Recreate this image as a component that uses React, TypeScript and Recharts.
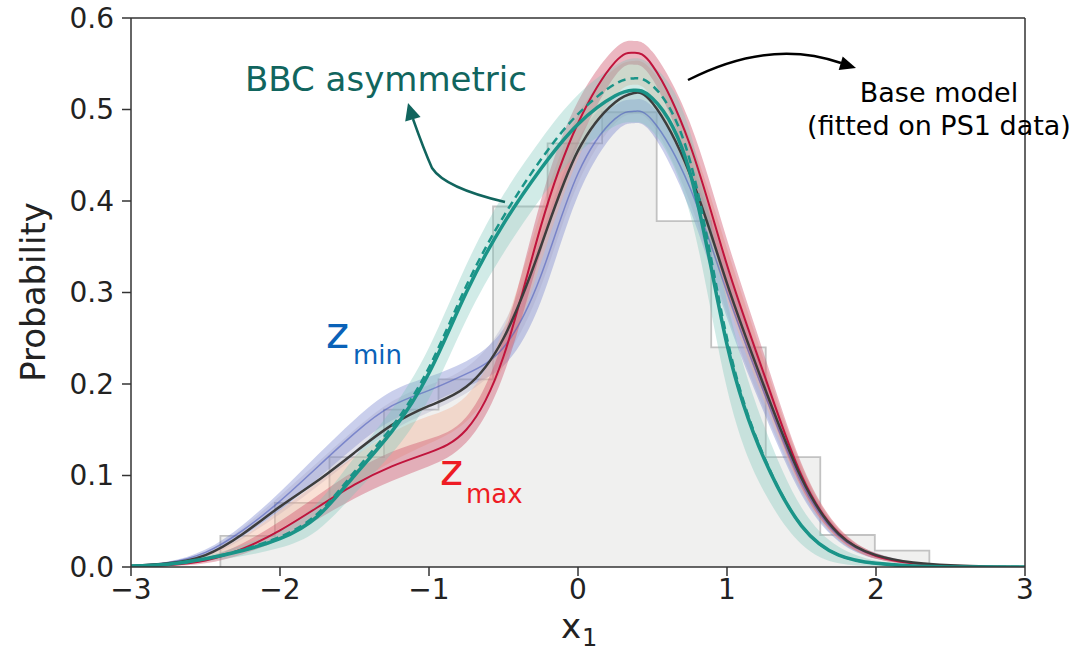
import {
  ComposedChart,
  Area,
  Line,
  XAxis,
  YAxis,
  ReferenceLine,
} from "recharts";

const FONT = "DejaVu Sans, sans-serif";
const CURVE = "natural";

// x grid for the smooth curves
const xs = [
  -3, -2.75, -2.5, -2.25, -2, -1.75, -1.5, -1.25, -1, -0.75, -0.5, -0.25, 0,
  0.25, 0.375, 0.5, 0.75, 1, 1.25, 1.5, 1.75, 2, 2.25, 2.5, 2.75, 3,
];

// base model (fitted on PS1 data)
const base = [
  0.001, 0.004, 0.013, 0.036, 0.066, 0.094, 0.125, 0.155, 0.176, 0.197, 0.25,
  0.35, 0.455, 0.508, 0.518, 0.507, 0.43, 0.31, 0.197, 0.097, 0.036, 0.013,
  0.005, 0.002, 0.0005, 0,
];

// redshift-dependent models, z_min -> z_max
const zMin = [
  0.0015, 0.005, 0.016, 0.04, 0.072, 0.109, 0.146, 0.176, 0.193, 0.211, 0.24,
  0.318, 0.43, 0.49, 0.498, 0.488, 0.415, 0.3, 0.19, 0.092, 0.034, 0.012,
  0.004, 0.001, 0, 0,
];
const zLow = [
  0.0012, 0.0045, 0.014, 0.037, 0.068, 0.101, 0.135, 0.165, 0.184, 0.204,
  0.246, 0.334, 0.443, 0.5, 0.508, 0.498, 0.423, 0.305, 0.194, 0.095, 0.035,
  0.0125, 0.0045, 0.0015, 0.0002, 0,
];
const zHigh = [
  0.0008, 0.003, 0.01, 0.027, 0.052, 0.079, 0.106, 0.131, 0.15, 0.173, 0.24,
  0.36, 0.47, 0.53, 0.54, 0.527, 0.445, 0.32, 0.203, 0.098, 0.036, 0.012,
  0.004, 0.001, 0, 0,
];
const zMax = [
  0.0005, 0.002, 0.007, 0.02, 0.04, 0.065, 0.09, 0.11, 0.125, 0.15, 0.23,
  0.372, 0.485, 0.552, 0.562, 0.548, 0.462, 0.33, 0.21, 0.1, 0.037, 0.012,
  0.004, 0.001, 0, 0,
];
const zSpread = [
  0, 0.001, 0.003, 0.006, 0.01, 0.013, 0.015, 0.016, 0.015, 0.014, 0.02, 0.028,
  0.024, 0.015, 0.013, 0.015, 0.024, 0.028, 0.022, 0.013, 0.006, 0.003, 0.001,
  0, 0, 0,
];

// BBC asymmetric
const bbc = [
  0.001, 0.003, 0.009, 0.018, 0.031, 0.055, 0.1, 0.148, 0.212, 0.3, 0.375,
  0.435, 0.484, 0.515, 0.521, 0.512, 0.432, 0.243, 0.118, 0.045, 0.013, 0.004,
  0.001, 0, 0, 0,
];
const bbcDashed = [
  0.001, 0.003, 0.009, 0.019, 0.033, 0.058, 0.104, 0.153, 0.218, 0.307, 0.383,
  0.445, 0.495, 0.528, 0.534, 0.526, 0.445, 0.25, 0.12, 0.045, 0.013, 0.004,
  0.001, 0, 0, 0,
];
const bbcSpread = [
  0, 0.001, 0.003, 0.006, 0.01, 0.015, 0.02, 0.024, 0.028, 0.03, 0.032, 0.032,
  0.032, 0.033, 0.035, 0.036, 0.045, 0.048, 0.036, 0.02, 0.009, 0.003, 0.001,
  0, 0, 0,
];

// histogram of the data
const binEdges = [
  -2.4, -2.034, -1.668, -1.302, -0.936, -0.57, -0.204, 0.162, 0.528, 0.894,
  1.26, 1.626, 1.992, 2.358,
];
const binHeights = [
  0.034, 0.07, 0.12, 0.172, 0.205, 0.394, 0.463, 0.497, 0.378, 0.24, 0.12,
  0.035, 0.018,
];

const xTicks = [-3, -2, -1, 0, 1, 2, 3];
const yTicks = [0, 0.1, 0.2, 0.3, 0.4, 0.5, 0.6];

const band = (c: number, s: number) => [Math.max(0, c - s), c + s];

const rows = xs.map((x, i) => ({
  x,
  base: base[i],
  zMin: zMin[i],
  zMax: zMax[i],
  zMinBand: band(zMin[i], zSpread[i]),
  zLowBand: band(zLow[i], zSpread[i]),
  zHighBand: band(zHigh[i], zSpread[i]),
  zMaxBand: band(zMax[i], zSpread[i]),
  bbc: bbc[i],
  bbcDashed: bbcDashed[i],
  bbcBand: band(bbc[i], bbcSpread[i]),
}));

const histRows = [
  { x: binEdges[0], h: 0 },
  ...binHeights.map((h, i) => ({ x: binEdges[i], h })),
  { x: binEdges[binEdges.length - 1], h: 0 },
];

const tickStyle = { fontSize: 28, fontFamily: FONT, fill: "#222" };
const fmtX = (v: number) => (v < 0 ? `\u2212${Math.abs(v)}` : `${v}`);

export default function App() {
  return (
    <div
      style={{
        position: "absolute",
        left: 0,
        top: 0,
        width: 1078,
        height: 655,
        background: "#fff",
      }}
    >
      <ComposedChart
        width={1078}
        height={655}
        data={rows}
        margin={{ top: 18, right: 53, bottom: 0, left: 0 }}
      >
        <XAxis
          dataKey="x"
          type="number"
          domain={[-3, 3]}
          ticks={xTicks}
          tickFormatter={fmtX}
          allowDataOverflow
          height={88}
          tickSize={9}
          tickMargin={3}
          tick={tickStyle}
          stroke="#333"
          strokeWidth={1.5}
        />
        <YAxis
          type="number"
          domain={[0, 0.6]}
          ticks={yTicks}
          tickFormatter={(v: number) => v.toFixed(1)}
          allowDataOverflow
          width={131}
          tickSize={9}
          tickMargin={8}
          tick={tickStyle}
          stroke="#333"
          strokeWidth={1.5}
        />

        <Area
          data={histRows}
          dataKey="h"
          type="stepAfter"
          fill="#f0f0ef"
          fillOpacity={1}
          stroke="#c2c2c2"
          strokeWidth={1.8}
          isAnimationActive={false}
          dot={false}
          activeDot={false}
        />

        <Area
          dataKey="zMinBand"
          type={CURVE}
          fill="#6c79c9"
          fillOpacity={0.36}
          stroke="none"
          isAnimationActive={false}
          activeDot={false}
        />
        <Area
          dataKey="zLowBand"
          type={CURVE}
          fill="#a3a2c4"
          fillOpacity={0.3}
          stroke="none"
          isAnimationActive={false}
          activeDot={false}
        />
        <Area
          dataKey="zHighBand"
          type={CURVE}
          fill="#f2b296"
          fillOpacity={0.4}
          stroke="none"
          isAnimationActive={false}
          activeDot={false}
        />
        <Area
          dataKey="zMaxBand"
          type={CURVE}
          fill="#d0536c"
          fillOpacity={0.42}
          stroke="none"
          isAnimationActive={false}
          activeDot={false}
        />
        <Line
          dataKey="zMin"
          type={CURVE}
          stroke="#4f5fbd"
          strokeOpacity={0.6}
          strokeWidth={1.5}
          dot={false}
          activeDot={false}
          isAnimationActive={false}
        />
        <Line
          dataKey="zMax"
          type={CURVE}
          stroke="#c0143c"
          strokeWidth={2}
          dot={false}
          activeDot={false}
          isAnimationActive={false}
        />
        <Line
          dataKey="base"
          type={CURVE}
          stroke="#3d3d3d"
          strokeWidth={2.5}
          dot={false}
          activeDot={false}
          isAnimationActive={false}
        />

        <Area
          dataKey="bbcBand"
          type={CURVE}
          fill="#7cc5bb"
          fillOpacity={0.35}
          stroke="none"
          isAnimationActive={false}
          activeDot={false}
        />
        <Line
          dataKey="bbcDashed"
          type={CURVE}
          stroke="#1a9488"
          strokeWidth={2.5}
          strokeDasharray="8 5"
          dot={false}
          activeDot={false}
          isAnimationActive={false}
        />
        <Line
          dataKey="bbc"
          type={CURVE}
          stroke="#1a9488"
          strokeWidth={3.5}
          dot={false}
          activeDot={false}
          isAnimationActive={false}
        />

        <ReferenceLine y={0.6} stroke="#333" strokeWidth={1.5} />
        <ReferenceLine x={3} stroke="#333" strokeWidth={1.5} />
      </ComposedChart>

      {/* annotations and axis titles */}
      <svg
        width={1078}
        height={655}
        style={{ position: "absolute", left: 0, top: 0, pointerEvents: "none" }}
        fontFamily={FONT}
      >
        <text
          x={45}
          y={292}
          fontSize={34}
          fill="#222"
          textAnchor="middle"
          transform="rotate(-90 45 292)"
        >
          Probability
        </text>
        <text x={581} y={638} fontSize={34} fill="#222" textAnchor="end">
          x
        </text>
        <text x={582} y={646} fontSize={24} fill="#222">
          1
        </text>

        <text x={245} y={91} fontSize={34} fill="#11655e">
          BBC asymmetric
        </text>
        <path
          d="M505,202 Q445,188 432,168 Q424,150 413,119"
          fill="none"
          stroke="#11655e"
          strokeWidth={2.5}
        />
        <polygon points="408,103 420.6,117 405.2,121.6" fill="#11655e" />

        <path
          d="M688,80 Q770,38 841,63"
          fill="none"
          stroke="#000"
          strokeWidth={2.5}
        />
        <polygon points="856,68 838.7,70 842.7,56.6" fill="#000" />
        <text x={939} y={102} fontSize={27} fill="#000" textAnchor="middle">
          Base model
        </text>
        <text x={939} y={135} fontSize={27} fill="#000" textAnchor="middle">
          (fitted on PS1 data)
        </text>

        <text x={326} y={348} fontSize={44} fill="#0a62b8">
          z
        </text>
        <text x={353} y={364} fontSize={26} fill="#0a62b8">
          min
        </text>
        <text x={440} y={485} fontSize={44} fill="#ee1c24">
          z
        </text>
        <text x={466} y={503} fontSize={26} fill="#ee1c24">
          max
        </text>
      </svg>
    </div>
  );
}
